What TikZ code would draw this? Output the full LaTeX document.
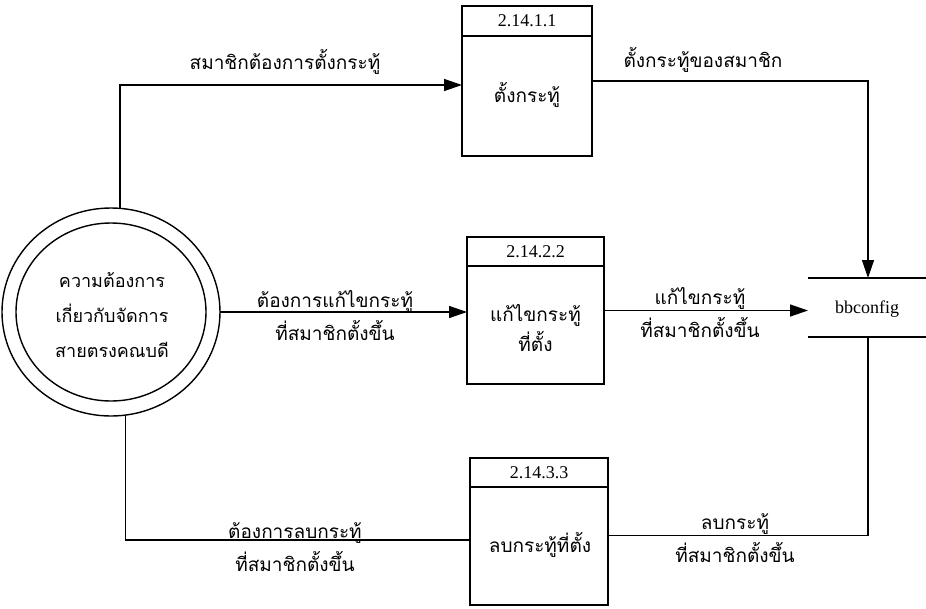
\documentclass[tikz,border=0pt]{standalone}
\usepackage{fontspec}
\setmainfont{Liberation Serif}
\newfontfamily\thaifont[Script=Thai]{Loma}
\usetikzlibrary{arrows.meta,shapes.geometric}
\tikzset{
  ln/.style={line width=1.4pt},
  arr/.style={ln,-{Triangle[length=18pt,width=12pt]}},
  thai/.style={font=\thaifont\fontsize{19}{33}\selectfont,align=center,inner sep=0pt},
  num/.style={font=\fontsize{18}{20}\selectfont,inner sep=0pt},
  proc/.style={draw,ln,rectangle,inner sep=0pt,outer sep=0pt},
}
\begin{document}
\begin{tikzpicture}[x=1pt,y=-1pt]
\useasboundingbox (0,0) rectangle (926,608);
% external entity (double circle)
\node[ellipse,draw,ln,minimum width=218pt,minimum height=208pt,inner sep=0pt,outer sep=0pt] (circ) at (111,312) {};
\node[ellipse,draw,ln,minimum width=190pt,minimum height=178pt,inner sep=0pt,outer sep=0pt] (inner) at (circ.center) {};
\node[thai,font=\thaifont\fontsize{18}{35}\selectfont] (ctext) at (112,315) {ความต้องการ\\เกี่ยวกับจัดการ\\สายตรงคณบดี};
% processes
\node[proc,minimum width=130pt,minimum height=150pt] (b1) at (527,81) {};
\draw[ln] ([yshift=-30pt]b1.north west) -- ([yshift=-30pt]b1.north east);
\node[num] (h1) at (527,21) {2.14.1.1};
\node[thai] (t1) at (527,95) {ตั้งกระทู้};

\node[proc,minimum width=137pt,minimum height=147pt] (b2) at (535.5,310.5) {};
\draw[ln] ([yshift=-29pt]b2.north west) -- ([yshift=-29pt]b2.north east);
\node[num] (h2) at (535.5,251.5) {2.14.2.2};
\node[thai] (t2) at (535.5,328) {แก้ไขกระทู้\\[-3pt]ที่ตั้ง};

\node[proc,minimum width=138pt,minimum height=147pt] (b3) at (539,531.5) {};
\draw[ln] ([yshift=-29pt]b3.north west) -- ([yshift=-29pt]b3.north east);
\node[num] (h3) at (539,472.5) {2.14.3.3};
\node[thai] (t3) at (540,545) {ลบกระทู้ที่ตั้ง};
% data store
\node[minimum width=120pt,minimum height=59pt,inner sep=0pt,outer sep=0pt] (bb) at (868,307.5) {};
\draw[ln] (bb.north west) -- (bb.north east);
\draw[ln] (bb.south west) -- (bb.south east);
\node[num] (bbt) at (867,309) {bbconfig};
% flows
\draw[arr] (circ.85) |- ([yshift=-4pt]b1.west);
\node[thai] (l1) at (285,62) {สมาชิกต้องการตั้งกระทู้};
\draw[arr] (b1.east) -| (bb.north);
\node[thai] (l2) at (703,60) {ตั้งกระทู้ของสมาชิก};
\draw[arr] (circ.east) -- (circ.east -| b2.west);
\node[thai] (l3) at (335,316) {ต้องการแก้ไขกระทู้\\ที่สมาชิกตั้งขึ้น};
\draw[arr] (b2.east) -- (b2.east -| bb.west);
\node[thai] (l4) at (700,313) {แก้ไขกระทู้\\ที่สมาชิกตั้งขึ้น};
\draw[ln] (circ.-82) |- ([yshift=-8.5pt]b3.west);
\node[thai] (l5) at (295,547) {ต้องการลบกระทู้\\ที่สมาชิกตั้งขึ้น};
\draw[ln] (bb.south) |- ([yshift=-4pt]b3.east);
\node[thai] (l6) at (735,538) {ลบกระทู้\\ที่สมาชิกตั้งขึ้น};
\end{tikzpicture}
\end{document}
